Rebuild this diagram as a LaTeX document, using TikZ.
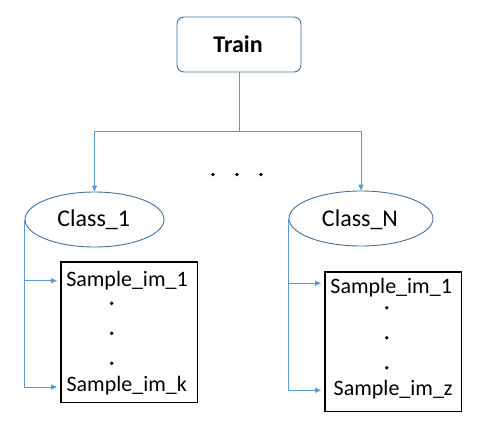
\documentclass[tikz,border=0pt]{standalone}
\usepackage{fontspec}
\setmainfont{Carlito}
\usetikzlibrary{shapes.geometric,arrows.meta}
\definecolor{lineblue}{HTML}{5B9BD5}
\definecolor{edgeblue}{HTML}{41719C}
\begin{document}
\begin{tikzpicture}[x=1pt,y=-1pt,
  conn/.style={draw=lineblue,line width=0.9pt},
  arr/.style={conn,-{Triangle[length=6pt,width=5pt]}},
  trainbox/.style={draw=edgeblue,line width=0.9pt,rounded corners=7pt,minimum width=124pt,minimum height=55pt,inner sep=0pt},
  classell/.style={ellipse,draw=edgeblue,line width=0.9pt,inner sep=0pt,minimum height=55pt},
  sampbox/.style={draw=black,line width=1.6pt,inner sep=0pt},
  lbl/.style={inner sep=0pt,anchor=base,font=\fontsize{22}{26}\selectfont},
  dotm/.style={circle,fill=black,inner sep=0pt,minimum size=3.8pt}
]
\useasboundingbox (0,0) rectangle (482,429);
% top
\node[trainbox] (train) at (239,44.5) {};
\node[lbl,font=\fontsize{24}{28}\selectfont\bfseries] (traint) at (238,52.3) {Train};
\coordinate (split) at (239,131.5);
% classes
\node[classell,minimum width=139pt] (c1) at (94.5,219.5) {};
\node[lbl,font=\fontsize{24}{28}\selectfont] (c1t) at (93.7,226.7) {Class\_1};
\node[classell,minimum width=144pt] (cN) at (361,218.5) {};
\node[lbl,font=\fontsize{24}{28}\selectfont] (cNt) at (360,226.7) {Class\_N};
% middle dots
\node[dotm] (m1) at (213,174.5) {};
\node[dotm] (m2) at (237,174.5) {};
\node[dotm] (m3) at (261,174.5) {};
% connectors from train
\draw[conn] (train.south) -- (split);
\draw[arr] (split) -| (c1.north);
\draw[arr] (split) -| (cN.north);
% left sample box
\node[sampbox,minimum width=136.6pt,minimum height=140.3pt] (b1) at (129,332.2) {};
\node[lbl] (s11) at (127,286.7) {Sample\_im\_1};
\node[dotm] (d11) at (111.7,303.3) {};
\node[dotm] (d12) at (111.7,333.3) {};
\node[dotm] (d13) at (111.7,363.3) {};
\node[lbl] (s1k) at (126.7,391.7) {Sample\_im\_k};
\coordinate (a11) at (57,280.7);
\coordinate (a1k) at (57,387);
\draw[arr] (c1.west) |- (a11);
\draw[arr] (c1.west) |- (a1k);
% right sample box
\node[sampbox,minimum width=136.3pt,minimum height=139.3pt] (bN) at (393.2,341.7) {};
\node[lbl] (sN1) at (391.2,293.3) {Sample\_im\_1};
\node[dotm] (dN1) at (386.7,307.7) {};
\node[dotm] (dN2) at (386.7,337.7) {};
\node[dotm] (dN3) at (386.7,367.7) {};
\node[lbl] (sNz) at (393.2,395.7) {Sample\_im\_z};
\coordinate (aN1) at (321,283.3);
\coordinate (aNz) at (321,390.3);
\draw[arr] (cN.west) |- (aN1);
\draw[arr] (cN.west) |- (aNz);
\end{tikzpicture}
\end{document}
